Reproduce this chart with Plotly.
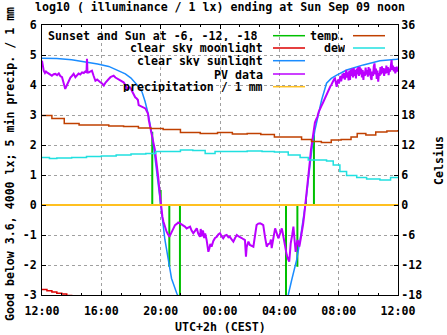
import datetime as dt
import plotly.graph_objects as go

# ---- data -------------------------------------------------------------
# time stamps are "HH:MM" local time (CEST); the series start Sat 12:00
# and run to Sun 12:00, the day rolls over when the clock goes backwards

sun_event_times = ["19:26", "20:00", "20:35", "21:18", "04:27", "05:13", "05:48", "06:20"]
sun_event_levels = [2.44, 0.5, -2.06, -3.4, -3.4, -2.06, 0.25, 2.33]

moon_times = ["12:00", "12:20", "12:40", "13:00", "13:20", "13:40", "14:00"]
moon_vals = [-2.82, -2.86, -2.90, -2.94, -2.97, -3.02, -3.06]

sun_times = ["12:00", "13:00", "14:00", "15:00", "15:45", "16:30", "17:00", "17:37",
             "18:00", "18:17", "18:30", "18:45", "18:57", "19:09", "19:18", "19:26",
             "19:33", "19:44", "19:52", "20:00", "20:07", "20:17", "20:31", "20:44",
             "21:05", "21:20",
             "04:20", "04:36", "04:50", "05:10", "05:24", "05:37", "05:48", "05:57",
             "06:11", "06:24", "06:38", "06:51", "07:11", "07:30", "07:52", "08:32",
             "09:40", "10:47", "11:55", "12:00"]
sun_vals = [4.89, 4.88, 4.84, 4.77, 4.70, 4.62, 4.52, 4.37,
            4.23, 4.09, 3.95, 3.76, 3.45, 3.05, 2.65, 2.30,
            1.85, 1.15, 0.60, 0.15, -0.45, -1.15, -1.90, -2.45,
            -2.94, -3.20,
            -3.30, -3.00, -2.50, -1.83, -1.17, -0.50, 0.17, 0.83,
            1.83, 2.50, 3.06, 3.50, 4.06, 4.22, 4.33, 4.50,
            4.67, 4.81, 4.86, 4.87]

pv_times = ["12:00", "12:03", "12:07", "12:12", "12:16", "12:20", "12:27", "12:33",
            "12:40", "12:47", "12:54", "13:01", "13:08", "13:14", "13:21", "13:28",
            "13:34", "13:41", "13:48", "13:55", "14:01", "14:08", "14:15", "14:22",
            "14:28", "14:35", "14:42", "14:49", "14:55", "15:00", "15:02", "15:04",
            "15:09", "15:15", "15:22", "15:29", "15:36", "15:43", "15:50", "15:56",
            "16:03", "16:10", "16:17", "16:23", "16:30", "16:37", "16:43", "16:50",
            "16:57", "17:03", "17:10", "17:17", "17:23", "17:30", "17:37", "17:44",
            "17:50", "17:57", "18:04", "18:10", "18:17", "18:23", "18:28", "18:31",
            "18:38", "18:45", "18:52", "18:58", "19:04", "19:09", "19:12", "19:18",
            "19:24", "19:30", "19:37", "19:44", "19:50", "19:55", "20:00", "20:04",
            "20:07", "20:11", "20:15", "20:20", "20:24", "20:30", "20:35", "20:40",
            "20:45", "20:52", "20:58", "21:05", "21:11", "21:18", "21:25", "21:32",
            "21:38", "21:45", "21:52", "21:59", "22:05", "22:12", "22:19", "22:26",
            "22:32", "22:39", "22:42", "22:46", "22:49", "22:52", "22:56", "23:00",
            "23:06", "23:10", "23:13", "23:17", "23:21", "23:26", "23:33", "23:40",
            "23:47", "23:53", "00:00", "00:07", "00:13", "00:20", "00:27", "00:34",
            "00:40", "00:47", "00:54", "01:01", "01:08", "01:14", "01:21", "01:28",
            "01:35", "01:41", "01:43", "01:45", "01:48", "01:55", "02:01", "02:08",
            "02:15", "02:22", "02:28", "02:35", "02:42", "02:49", "02:55", "03:02",
            "03:09", "03:15", "03:22", "03:26", "03:29", "03:36", "03:43", "03:50",
            "03:56", "04:03", "04:10", "04:13", "04:16", "04:23", "04:30", "04:35",
            "04:40", "04:43", "04:46", "04:52", "04:57", "05:02", "05:06", "05:10",
            "05:14", "05:18", "05:21", "05:26", "05:31", "05:36", "05:40", "05:44",
            "05:48", "05:53", "05:57", "06:00", "06:04", "06:08", "06:13", "06:18",
            "06:24", "06:29", "06:34", "06:39", "06:44", "06:50", "06:56", "07:01",
            "07:05", "07:10", "07:14", "07:18", "07:22", "07:26", "07:30", "07:34",
            "07:38", "07:42", "07:45", "07:48", "07:52", "07:55", "07:58", "08:01",
            "08:04", "08:07", "08:10", "08:13", "08:16", "08:19", "08:22", "08:25",
            "08:28", "08:31", "08:34", "08:37", "08:40", "08:43", "08:46", "08:49",
            "08:52", "08:55", "08:58", "09:01", "09:04", "09:07", "09:10", "09:13",
            "09:16", "09:19", "09:22", "09:25", "09:28", "09:31", "09:34", "09:37",
            "09:40", "09:43", "09:46", "09:49", "09:52", "09:55", "09:58", "10:01",
            "10:04", "10:07", "10:10", "10:13", "10:16", "10:19", "10:22", "10:25",
            "10:28", "10:31", "10:34", "10:37", "10:40", "10:43", "10:46", "10:49",
            "10:52", "10:55", "10:58", "11:01", "11:04", "11:07", "11:10", "11:13",
            "11:16", "11:19", "11:22", "11:25", "11:28", "11:31", "11:34", "11:37",
            "11:40", "11:43", "11:46", "11:49", "11:52", "11:55", "11:58", "12:00"]
pv_vals = [4.81, 4.60, 4.48, 4.40, 4.45, 4.42, 4.37, 4.34,
           4.31, 4.36, 4.37, 4.33, 4.39, 4.30, 4.26, 4.05,
           3.87, 4.00, 4.14, 4.25, 4.30, 4.37, 4.26, 4.33,
           4.38, 4.35, 4.42, 4.40, 4.45, 4.43, 4.87, 4.42,
           4.42, 4.45, 4.48, 4.30, 4.14, 4.18, 4.12, 4.09,
           4.05, 3.98, 4.08, 4.15, 4.20, 4.26, 4.28, 4.31,
           4.25, 4.22, 4.20, 4.16, 4.12, 4.09, 4.00, 3.87,
           3.92, 3.92, 3.80, 3.70, 3.59, 3.55, 3.50, 3.33,
           3.30, 3.26, 3.24, 3.22, 3.12, 3.04, 2.83, 2.62,
           2.39, 2.10, 1.83, 1.40, 0.94, 0.50, 0.06, -0.15,
           -0.39, -0.55, -0.67, -0.80, -0.89, -0.98, -1.06, -0.98,
           -0.89, -0.78, -0.67, -0.63, -0.58, -0.61, -0.64, -0.67,
           -0.72, -0.78, -0.75, -0.72, -0.85, -0.94, -0.86, -0.78,
           -0.95, -1.06, -0.80, -1.05, -0.85, -0.89, -1.10, -0.95,
           -1.17, -1.50, -1.56, -1.45, -1.30, -1.39, -1.20, -1.10,
           -1.06, -0.98, -0.94, -1.05, -1.11, -1.02, -1.00, -1.08,
           -1.06, -1.15, -1.22, -1.10, -1.00, -1.04, -1.06, -1.10,
           -1.14, -1.17, -1.45, -1.72, -1.40, -1.22, -1.33, -1.36,
           -1.39, -1.00, -0.67, -0.62, -0.61, -0.64, -0.67, -1.06,
           -1.39, -1.30, -1.28, -1.15, -1.44, -1.10, -0.78, -0.95,
           -1.11, -0.95, -0.78, -0.90, -1.06, -1.40, -1.67, -1.80,
           -1.89, -1.60, -1.28, -1.00, -0.72, -1.20, -1.56, -1.30,
           -1.17, -1.30, -1.39, -1.15, -0.94, -0.65, -0.39, -0.10,
           0.17, 0.50, 0.83, 1.15, 1.50, 1.85, 2.17, 2.45,
           2.75, 2.85, 2.94, 3.10, 3.22, 3.30, 3.40, 3.50,
           3.52, 3.62, 3.70, 3.78, 3.88, 3.95, 4.00, 4.08,
           4.15, 4.20, 4.22, 4.05, 3.94, 4.10, 4.18, 4.05,
           4.15, 4.30, 4.12, 4.25, 4.38, 4.22, 4.40, 4.18,
           4.45, 4.50, 4.25, 4.42, 4.15, 4.48, 4.17, 4.52,
           4.30, 4.55, 4.25, 4.56, 4.30, 4.50, 4.22, 4.55,
           4.35, 4.60, 4.30, 4.61, 4.35, 4.55, 4.25, 4.50,
           4.17, 4.45, 4.30, 4.58, 4.35, 4.50, 4.28, 4.60,
           4.32, 4.55, 4.25, 4.17, 4.45, 4.30, 4.62, 4.72,
           4.35, 4.55, 4.20, 4.48, 4.11, 4.40, 4.30, 4.60,
           4.35, 4.62, 4.40, 4.56, 4.30, 4.55, 4.38, 4.65,
           4.40, 4.60, 4.33, 4.55, 4.45, 4.70, 4.83, 4.50,
           4.65, 4.45, 4.60, 4.39, 4.55, 4.61, 4.45, 4.50]

precip_times = ["12:00", "16:00", "20:00", "00:00", "04:00", "08:00", "12:00"]
precip_mm = [0, 0, 0, 0, 0, 0, 0]

temp_times = ["12:00", "12:40", "13:30", "14:30", "15:40", "16:30", "17:30", "18:30",
              "19:20", "20:10", "21:20", "22:40", "23:50", "00:50", "01:50", "02:45",
              "03:40", "04:50", "05:30", "06:10", "06:50", "07:30", "08:10", "08:50",
              "09:15", "09:50", "10:30", "11:15", "12:00"]
temp_c = [17.9, 17.3, 16.3, 16.0, 16.0, 15.8, 15.7, 15.4,
          15.3, 15.1, 14.5, 14.3, 14.5, 14.2, 14.3, 14.1,
          13.6, 13.6, 13.1, 12.7, 12.5, 13.0, 13.1, 13.6,
          14.3, 14.0, 14.6, 14.8, 15.0]

dew_times = ["12:00", "12:30", "13:00", "14:00", "15:00", "16:00", "17:00", "18:00",
             "19:00", "19:40", "20:40", "21:20", "22:10", "23:00", "23:40", "00:40",
             "01:50", "02:50", "03:40", "04:36", "05:24", "05:57", "07:11", "07:38",
             "08:05", "08:32", "09:13", "09:53", "10:47", "11:30", "12:00"]
dew_c = [9.5, 9.3, 9.4, 9.5, 9.7, 9.8, 10.0, 10.2,
         10.3, 10.7, 10.7, 11.0, 10.9, 10.3, 10.7, 10.7,
         10.8, 10.7, 10.6, 10.0, 9.5, 9.0, 8.8, 8.0,
         6.7, 5.9, 5.5, 5.2, 5.0, 5.5, 5.5]

y_ticks = [-3, -2, -1, 0, 1, 2, 3, 4, 5, 6]
y_tick_labels = ["-3", "-2", "-1", "0", "1", "2", "3", "4", "5", "6"]
y2_ticks = [-18, -12, -6, 0, 6, 12, 18, 24, 30, 36]
y2_tick_labels = ["-18", "-12", "-6", "0", "6", "12", "18", "24", "30", "36"]

START = dt.datetime(2018, 9, 8, 12, 0)
END = dt.datetime(2018, 9, 9, 12, 0)


def to_datetimes(times):
    """Turn a chronological list of HH:MM strings into datetimes."""
    out, day, prev = [], 0, None
    for t in times:
        h, m = map(int, t.split(":"))
        mins = h * 60 + m
        if prev is not None and mins < prev:
            day = 1
        prev = mins
        out.append(dt.datetime(2018, 9, 8) + dt.timedelta(days=day, minutes=mins))
    return out


# ---- styling ----------------------------------------------------------
FONT = "DejaVu Sans Mono"
FS = 11.6
C_GREEN = "#00c000"
C_RED = "#dd0000"
C_BLUE = "#1a8cff"
C_PURPLE = "#bb00ff"
C_YELLOW = "#ffc020"
C_TEMP = "#c04000"
C_DEW = "#20e0e0"
GRID = "#a0a0a0"

fig = go.Figure()

# sun altitude markers: vertical bars from 0 to the clear-sky level
ev_x, ev_y = [], []
for t, lv in zip(to_datetimes(sun_event_times), sun_event_levels):
    ev_x += [t, t, None]
    ev_y += [0, lv, None]
fig.add_trace(go.Scatter(x=ev_x, y=ev_y, mode="lines",
                         line=dict(color=C_GREEN, width=2)))

fig.add_trace(go.Scatter(x=to_datetimes(moon_times), y=moon_vals, mode="lines",
                         line=dict(color=C_RED, width=1.5, shape="hv")))
fig.add_trace(go.Scatter(x=to_datetimes(sun_times), y=sun_vals, mode="lines",
                         line=dict(color=C_BLUE, width=1.5)))
fig.add_trace(go.Scatter(x=to_datetimes(pv_times), y=pv_vals, mode="lines",
                         line=dict(color=C_PURPLE, width=2)))
fig.add_trace(go.Scatter(x=to_datetimes(precip_times), y=precip_mm, mode="lines",
                         line=dict(color=C_YELLOW, width=2)))
fig.add_trace(go.Scatter(x=to_datetimes(temp_times), y=temp_c, mode="lines",
                         yaxis="y2", line=dict(color=C_TEMP, width=1.5, shape="hv")))
fig.add_trace(go.Scatter(x=to_datetimes(dew_times), y=dew_c, mode="lines",
                         yaxis="y2", line=dict(color=C_DEW, width=1.5, shape="hv")))

# ---- key (right-aligned labels with samples to their right) ----------
L, R, T, B = 42, 398, 25, 295
W, H = R - L, B - T


def px(x):
    return (x - L) / W


def py(y):
    return (B - y) / H


shapes = [dict(type="rect", xref="paper", yref="paper", x0=0, x1=px(312),
               y0=py(94), y1=1, fillcolor="white", line=dict(width=0),
               layer="between")]
annotations = []

key_rows = [35.7, 48.0, 60.7, 74.0, 86.7]
left_key = [("Sunset and Sun at -6, -12, -18", C_GREEN, 257.5),
            ("clear sky moonlight", C_RED, 264),
            ("clear sky sunlight", C_BLUE, 264),
            ("PV data", C_PURPLE, 264),
            ("precipitation / 1 mm", C_YELLOW, 264)]
right_key = [("temp.", C_TEMP, 346), ("dew", C_DEW, 346)]

for (label, col, xr), yr in zip(left_key, key_rows):
    annotations.append(dict(text=label, x=px(xr), y=py(yr), xref="paper", yref="paper",
                            xanchor="right", yanchor="middle", showarrow=False,
                            height=11, borderpad=0))
    shapes.append(dict(type="line", xref="paper", yref="paper", x0=px(273), x1=px(305),
                       y0=py(yr), y1=py(yr), line=dict(color=col, width=1.5), layer="above"))
for (label, col, xr), yr in zip(right_key, key_rows):
    annotations.append(dict(text=label, x=px(xr), y=py(yr), xref="paper", yref="paper",
                            xanchor="right", yanchor="middle", showarrow=False,
                            height=11, borderpad=0))
    shapes.append(dict(type="line", xref="paper", yref="paper", x0=px(353), x1=px(385),
                       y0=py(yr), y1=py(yr), line=dict(color=col, width=1.5), layer="above"))

# titles
annotations += [
    dict(text="log10 ( illuminance / 1 lx) ending at Sun Sep 09 noon",
         x=px(220), y=py(7), xref="paper", yref="paper", xanchor="center",
         yanchor="middle", showarrow=False),
    dict(text="UTC+2h (CEST)", x=px(220), y=py(327), xref="paper", yref="paper",
         xanchor="center", yanchor="middle", showarrow=False),
    dict(text="Good below 3.6, 4000 lx; 5 min precip. / 1 mm", x=px(10), y=py(164),
         xref="paper", yref="paper", xanchor="center", yanchor="middle",
         textangle=-90, showarrow=False),
    dict(text="Celsius", x=px(439), y=py(160), xref="paper", yref="paper",
         xanchor="center", yanchor="middle", textangle=-90, showarrow=False),
]

fig.update_layout(
    width=447, height=335,
    margin=dict(l=L, r=447 - R, t=T, b=335 - B, autoexpand=False),
    paper_bgcolor="white", plot_bgcolor="white",
    font=dict(family=FONT, size=FS, color="black", weight="bold"),
    showlegend=False,
    shapes=shapes, annotations=annotations,
    xaxis=dict(
        type="date", range=[START, END],
        tick0=START, dtick=4 * 3600 * 1000, tickformat="%H:%M",
        ticks="inside", ticklen=4, tickcolor="black", ticklabelstandoff=5,
        showline=True, linecolor="black", linewidth=1, mirror="ticks",
        showgrid=True, gridcolor=GRID, griddash="3px,3px", gridwidth=1,
        zeroline=False,
        minor=dict(tick0=START, dtick=80 * 60 * 1000, ticks="inside", ticklen=2,
                   tickcolor="black", showgrid=False),
    ),
    yaxis=dict(
        range=[-3, 6], tickvals=y_ticks, ticktext=y_tick_labels,
        ticks="inside", ticklen=4, tickcolor="black", ticklabelstandoff=2,
        showline=True, linecolor="black", linewidth=1, mirror=True,
        showgrid=True, gridcolor=GRID, griddash="3px,3px", gridwidth=1,
        zeroline=False,
    ),
    yaxis2=dict(
        range=[-18, 36], tickvals=y2_ticks, ticktext=y2_tick_labels,
        overlaying="y", side="right", anchor="x",
        ticks="inside", ticklen=4, tickcolor="black",
        showline=True, linecolor="black", linewidth=1,
        showgrid=False, zeroline=False,
    ),
)

fig.write_html("out.html")
